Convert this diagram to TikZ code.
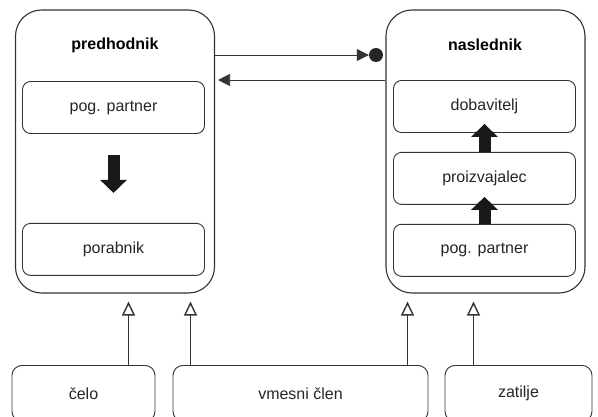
\documentclass[tikz,border=0pt]{standalone}
\usepackage{fontspec}
\setmainfont{Liberation Sans}
\usetikzlibrary{arrows.meta, positioning}

\begin{document}
\begin{tikzpicture}[x=1pt,y=1pt,node distance=19pt,
			every node/.style = {font=\fontsize{16}{19}\selectfont},
			outer/.style = {draw=black!80,line width=1.1pt,rounded corners=26pt,
				minimum width=199pt,minimum height=283pt},
			part/.style = {draw=black!80,line width=0.9pt,rounded corners=8pt,
				minimum width=182pt,minimum height=52pt,text=black!85},
			member/.style = {draw=black!80,line width=0.9pt,rounded corners=10pt,
				minimum height=56pt,anchor=north,text=black!85},
			title/.style = {font=\fontsize{16}{19}\selectfont\bfseries},
			flow/.style = {line width=12pt,draw=black!90,-{Triangle[length=13pt,width=26pt]}},
			gen/.style = {line width=0.9pt,draw=black!80,
				-{Triangle[open,length=14pt,width=13pt,line width=1.4pt]},shorten >=8pt},
			link/.style = {line width=0.8pt,draw=black!80,-{Triangle[length=12pt,width=12pt]}},
			dot/.style = {circle,fill=black!85,inner sep=0pt,minimum size=14pt}]
			\useasboundingbox[fill=white] (0,0) rectangle (598,416);
			\clip (0,0) rectangle (598,416);
			% large boxes
			\node [outer] (prev) at (115,264.5) {};
			\node [outer] (next) at (485.5,264.5) {};
			\node [title] at (115,371) {predhodnik};
			\node [title] at (485,371) {naslednik};
			% inner boxes
			\node [part] (lpartner) at (113.5,308.5) {pog. partner};
			\node [part, below=89pt of lpartner] (consumer) {porabnik};
			\node [part] (supplier) at (484.5,309.5) {dobavitelj};
			\node [part, below=of supplier] (producer) {proizvajalec};
			\node [part, below=of producer] (rpartner) {pog. partner};
			% flows
			\draw [flow] ([yshift=-21pt]lpartner.south) -- ([yshift=30pt]consumer.north);
			\draw [flow] (producer.north) -- ([yshift=9pt]supplier.south);
			\draw [flow] (rpartner.north) -- ([yshift=8pt]producer.south);
			% links between the two
			\node [dot] (joint) at (376,361) {};
			\coordinate (back) at (300,336);
			\draw [link] (prev.east |- joint) -- (joint.west);
			\draw [link, shorten >=3pt] (next.west |- back) -- (prev.east |- back);
			% members of the chain
			\node [member, minimum width=143pt] (front) at (83.5,51) {čelo};
			\node [member, minimum width=255pt] (middle) at (300.5,51) {vmesni člen};
			\node [member, minimum width=147pt] (rear) at (518.5,51) {zatilje};
			\draw [gen] ([xshift=45pt]front.north) -- ([xshift=45pt]front.north |- prev.south);
			\draw [gen] ([xshift=-110pt]middle.north) -- ([xshift=-110pt]middle.north |- prev.south);
			\draw [gen] ([xshift=107pt]middle.north) -- ([xshift=107pt]middle.north |- next.south);
			\draw [gen] ([xshift=-45pt]rear.north) -- ([xshift=-45pt]rear.north |- next.south);
		\end{tikzpicture}
\end{document}
